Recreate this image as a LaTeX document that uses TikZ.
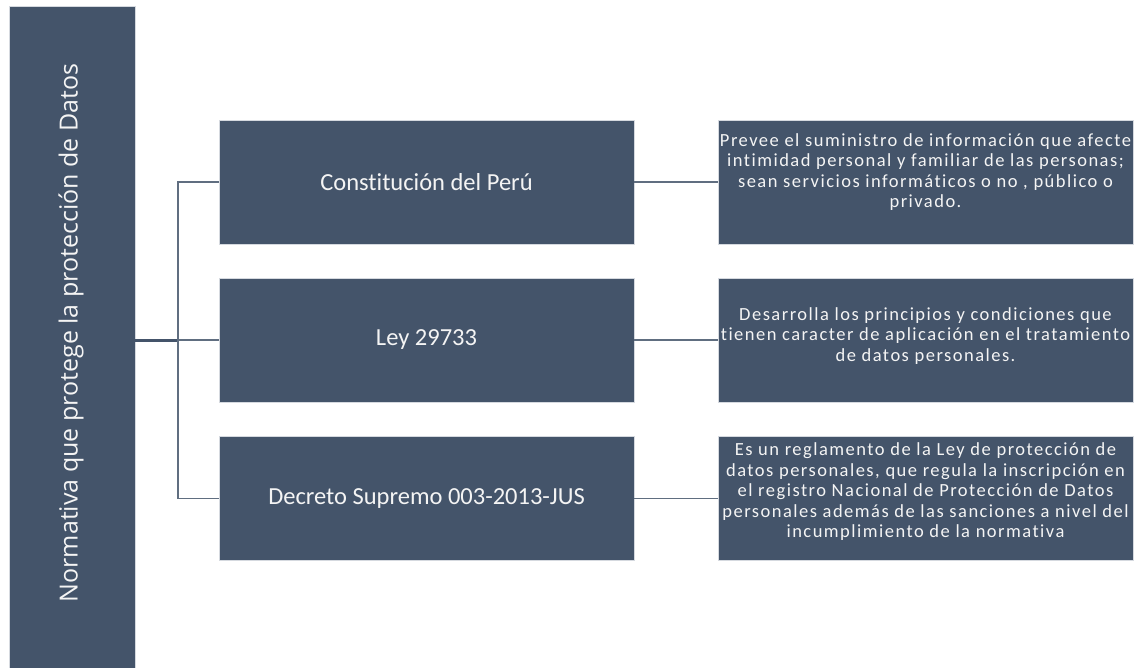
\documentclass[tikz,border=0pt]{standalone}
\usepackage{fontspec}
\setmainfont{Carlito}[Ligatures=NoCommon]
\newfontfamily\vfont{Open Sans}
\definecolor{navy}{HTML}{44546A}
\definecolor{edge}{HTML}{D5D9DF}
\definecolor{txt}{HTML}{F4F4F4}
\begin{document}
\begin{tikzpicture}[x=1pt,y=-1pt,
  box/.style={rectangle, fill=navy, draw=edge, line width=0.8pt, inner sep=0pt},
  midbox/.style={box, minimum width=415pt, minimum height=124pt, text=txt,
     font=\fontsize{24.5}{28}\selectfont},
  rbox/.style={box, minimum width=415pt, minimum height=124pt},
  rtext/.style={text=txt, align=center, inner sep=0pt,
     font=\addfontfeature{LetterSpace=8}\fontsize{18.5}{20.5}\selectfont},
  conn/.style={draw=navy!85!white, line width=1.3pt},
  trunk/.style={draw=navy, line width=3pt}]
\useasboundingbox (0,0) rectangle (1138,667);
\fill[white] (0,0) rectangle (1138,667);
\node[box, minimum width=126pt, minimum height=662pt] (root) at (72,337) {};
\node[rotate=90, text=txt, inner sep=0pt, font=\vfont\fontsize{25}{28}\selectfont] (rootlabel) at (71,333) {Normativa que protege la protección de Datos};
\node[midbox] (const) at (426.5,182) {Constitución del Perú};
\node[midbox] (ley) at (426.5,340) {Ley 29733};
\node[midbox] (dec) at (426.5,498.5) {Decreto Supremo 003-2013-JUS};
\node[rbox] (r1) at (925.5,182) {};
\node[rbox] (r2) at (925.5,340) {};
\node[rbox] (r3) at (925.5,498.5) {};
\node[rtext] (t1) at (925.5,172) {Prevee el suministro de información que afecte\\intimidad personal y familiar de las personas;\\sean servicios informáticos o no , público o\\privado.};
\node[rtext] (t2) at (925.5,336) {Desarrolla los principios y condiciones que\\tienen caracter de aplicación en el tratamiento\\de datos personales.};
\node[rtext] (t3) at (925.5,492) {Es un reglamento de la Ley de protección de\\datos personales, que regula la inscripción en\\el registro Nacional de Protección de Datos\\personales además de las sanciones a nivel del\\incumplimiento de la normativa};
\coordinate (j) at (178,340);
\draw[trunk] (ley.west -| root.east) -- (j);
\draw[conn] (const.west) -- (const.west -| j) -- (dec.west -| j) -- (dec.west);
\draw[conn] (j) -- (ley.west);
\draw[conn] (const.east) -- (r1.west);
\draw[conn] (ley.east) -- (r2.west);
\draw[conn] (dec.east) -- (r3.west);
\end{tikzpicture}
\end{document}
